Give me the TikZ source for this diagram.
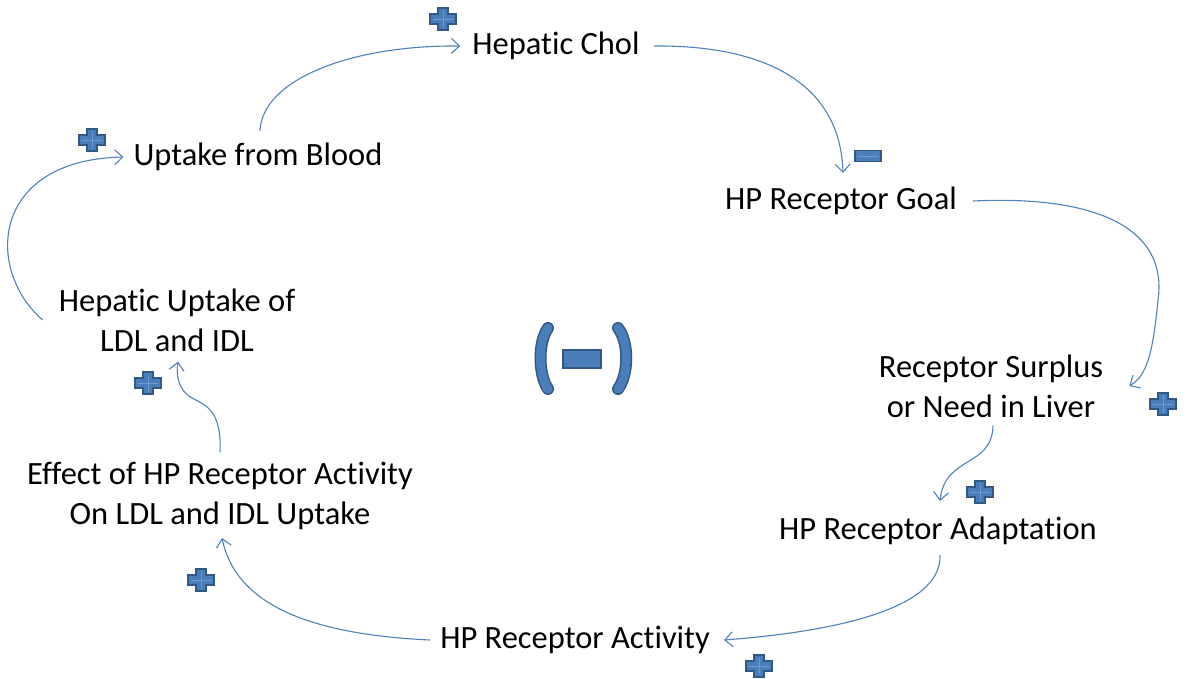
\documentclass[tikz,border=0pt]{standalone}
\usepackage{fontspec}
\setmainfont{Carlito}[RawFeature=-liga]
\usetikzlibrary{arrows.meta}
\definecolor{linkblue}{RGB}{79,129,189}
\definecolor{signblue}{RGB}{74,126,187}
\definecolor{signdark}{RGB}{52,88,132}
\definecolor{signlight}{RGB}{110,155,210}
\tikzset{
  lbl/.style={font=\fontsize{32.5}{40}\selectfont, align=center, inner sep=0pt, text=black},
  link/.style={draw=linkblue, line width=1.1pt, -{Straight Barb[length=8pt,width=15pt]}},
  plussign/.pic={
    \filldraw[fill=signblue, draw=signdark, line width=1.2pt]
      (-13,-5) -- (-5,-5) -- (-5,-11) -- (5,-11) -- (5,-5) -- (13,-5)
      -- (13,5) -- (5,5) -- (5,11) -- (-5,11) -- (-5,5) -- (-13,5) -- cycle;
    \draw[signlight, line width=0.7pt] (-10,0) -- (10,0) (0,-8) -- (0,8);
  },
  minussign/.pic={
    \filldraw[fill=signblue, draw=signdark, line width=1.2pt] (-13,-5.5) rectangle (13,5.5);
    \draw[signlight, line width=0.7pt] (-10,0) -- (10,0);
  },
  paren/.style={line width=12pt, draw=signdark, line cap=round},
  parenfill/.style={line width=9pt, draw=signblue, line cap=round},
}
\begin{document}
\begin{tikzpicture}[x=1pt,y=-1pt]
\useasboundingbox (0,0) rectangle (1188,679);

% loop variables
\node[lbl] (chol)   at (556,46)  {Hepatic Chol};
\node[lbl] (blood)  at (258,157) {Uptake from Blood};
\node[lbl] (goal)   at (841,201) {HP Receptor Goal};
\node[lbl] (hepup)  at (177,320) {Hepatic Uptake of\\LDL and IDL};
\node[lbl] (surplus) at (991,386) {Receptor Surplus\\or Need in Liver};
\node[lbl] (adapt)  at (938,531) {HP Receptor Adaptation};
\node[lbl] (activ)  at (575,640) {HP Receptor Activity};
\node[lbl] (effect) at (220,496) {Effect of HP Receptor Activity\\On LDL and IDL Uptake};

% causal links
\draw[link] ([shift={(2,-12)}]blood.north) .. controls (262,80) and (350,45) .. ([xshift=-12]chol.west);
\draw[link] ([xshift=14]chol.east) .. controls (760,45) and (840,80) .. ([shift={(2,-14)}]goal.north);
\draw[link] ([xshift=16]goal.east) .. controls (1100,195) and (1168,230) .. (1158,300)
            .. controls (1153,350) and (1148,375) .. ([xshift=26]surplus.east);
\draw[link] ([shift={(2,8)}]surplus.south) .. controls (992,468) and (945,455) .. ([shift={(2,-16)}]adapt.north);
\draw[link] ([shift={(2,10)}]adapt.south) .. controls (942,610) and (830,632) .. ([xshift=14]activ.east);
\draw[link] ([xshift=-10]activ.west) .. controls (300,634) and (235,600) .. ([shift={(2,8)}]effect.south);
\draw[link] ([shift={(0,-10)}]effect.north) .. controls (222,410) and (205,405) .. (192,398)
            .. controls (178,390) and (176,375) .. ([shift={(1,10)}]hepup.south);
\draw[link] ([xshift=-16]hepup.west) .. controls (-15,270) and (-10,160) .. ([xshift=-10]blood.west);

% link polarities
\pic at (443,19)  {plussign};
\pic at (92,140)  {plussign};
\pic at (868,156) {minussign};
\pic at (1163,404) {plussign};
\pic at (980,492) {plussign};
\pic at (759,666) {plussign};
\pic at (201,580) {plussign};
\pic at (148,383) {plussign};

% loop polarity (-)
\draw[paren] (548,328) .. controls (538,342) and (538,374) .. (548,389);
\draw[parenfill] (548,328) .. controls (538,342) and (538,374) .. (548,389);
\draw[paren] (618,328) .. controls (629,342) and (629,374) .. (618,389);
\draw[parenfill] (618,328) .. controls (629,342) and (629,374) .. (618,389);
\filldraw[fill=signblue, draw=signdark, line width=1.5pt] (563,350) rectangle (601,368);
\end{tikzpicture}
\end{document}
